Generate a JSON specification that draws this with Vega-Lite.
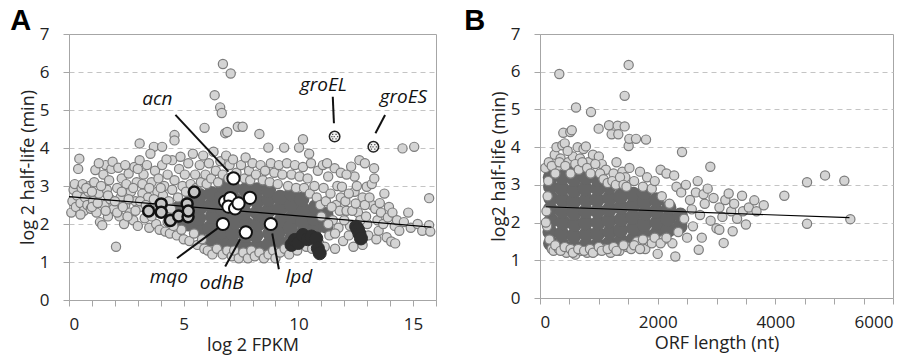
{
"$schema": "https://vega.github.io/schema/vega-lite/v6.json",
"background": "white",
"padding": {"left": 9, "top": 6, "right": 5, "bottom": 3},
"spacing": 25,
"config": {
 "font": "Open Sans",
 "view": {"stroke": "#a6a6a6", "strokeWidth": 1},
 "axis": {"labelFontSize": 17, "titleFontSize": 18, "labelColor": "#222", "titleColor": "#222", "titleFontWeight": "normal", "domainColor": "#a6a6a6", "tickColor": "#a6a6a6", "gridColor": "#c4c4c4", "gridDash": [5, 4], "labelFont": "Open Sans", "titleFont": "Open Sans"}
},
"datasets": {
 "a_core": [
  {"x":4.7,"y":2.1},{"x":4.75,"y":2.4},{"x":5.2,"y":2.0},{"x":5.15,"y":2.3},{"x":5.25,"y":2.55},{"x":5.7,"y":1.85},{"x":5.65,"y":2.15},{"x":5.75,"y":2.45},{"x":5.7,"y":2.75},
  {"x":6.2,"y":1.6},{"x":6.15,"y":1.9},{"x":6.25,"y":2.2},{"x":6.2,"y":2.5},{"x":6.2,"y":2.8},{"x":6.7,"y":1.5},{"x":6.65,"y":1.8},{"x":6.75,"y":2.1},{"x":6.7,"y":2.4},{"x":6.65,"y":2.7},{"x":6.7,"y":3.0},
  {"x":7.2,"y":1.45},{"x":7.15,"y":1.75},{"x":7.25,"y":2.05},{"x":7.2,"y":2.35},{"x":7.2,"y":2.65},{"x":7.15,"y":2.95},{"x":7.7,"y":1.4},{"x":7.7,"y":1.7},{"x":7.75,"y":2.0},{"x":7.65,"y":2.3},{"x":7.7,"y":2.6},{"x":7.7,"y":2.9},
  {"x":8.2,"y":1.4},{"x":8.15,"y":1.7},{"x":8.25,"y":2.0},{"x":8.2,"y":2.3},{"x":8.2,"y":2.6},{"x":8.2,"y":2.9},{"x":8.7,"y":1.45},{"x":8.75,"y":1.75},{"x":8.65,"y":2.05},{"x":8.7,"y":2.35},{"x":8.7,"y":2.65},{"x":8.7,"y":2.9},
  {"x":9.2,"y":1.5},{"x":9.15,"y":1.8},{"x":9.25,"y":2.1},{"x":9.2,"y":2.4},{"x":9.2,"y":2.7},{"x":9.7,"y":1.6},{"x":9.65,"y":1.9},{"x":9.75,"y":2.2},{"x":9.7,"y":2.5},{"x":9.7,"y":2.8},
  {"x":10.2,"y":1.75},{"x":10.2,"y":2.05},{"x":10.25,"y":2.35},{"x":10.15,"y":2.65},{"x":10.7,"y":1.85},{"x":10.7,"y":2.15},{"x":10.75,"y":2.45},{"x":11.2,"y":1.95},{"x":11.2,"y":2.25}
 ],
 "a_cloud": [
  {"x":0.1,"y":2.3},{"x":0.15,"y":2.6},{"x":0.2,"y":2.9},{"x":0.25,"y":3.05},{"x":0.3,"y":2.45},{"x":0.35,"y":2.75},{"x":0.4,"y":3.45},{"x":0.45,"y":3.72},{"x":0.5,"y":2.55},{"x":0.55,"y":2.95},{"x":0.6,"y":3.05},{"x":0.65,"y":2.35},{"x":0.7,"y":2.7},{"x":0.8,"y":2.5},{"x":0.85,"y":2.85},{"x":0.9,"y":3.0},{"x":0.95,"y":2.4},
  {"x":1.05,"y":2.6},{"x":1.1,"y":3.1},{"x":1.15,"y":3.42},{"x":1.2,"y":2.3},{"x":1.3,"y":2.8},{"x":1.35,"y":2.05},{"x":1.45,"y":1.97},{"x":1.5,"y":3.3},{"x":1.55,"y":2.5},{"x":1.6,"y":3.55},{"x":1.65,"y":2.9},{"x":1.7,"y":2.2},{"x":1.75,"y":3.15},{"x":1.8,"y":2.65},{"x":1.85,"y":3.45},{"x":1.9,"y":3.64},{"x":1.95,"y":2.4},
  {"x":2.05,"y":1.4},{"x":2.1,"y":2.95},{"x":2.15,"y":3.48},{"x":2.2,"y":2.2},{"x":2.25,"y":2.7},{"x":2.3,"y":3.2},{"x":2.4,"y":2.0},{"x":2.45,"y":2.5},{"x":2.5,"y":3.05},{"x":2.6,"y":3.33},{"x":2.65,"y":2.3},{"x":2.7,"y":2.85},{"x":2.8,"y":2.1},{"x":2.85,"y":3.5},{"x":2.9,"y":2.6},{"x":2.95,"y":3.1},
  {"x":3.0,"y":1.95},{"x":3.08,"y":3.68},{"x":3.08,"y":4.12},{"x":3.1,"y":2.45},{"x":3.2,"y":2.8},{"x":3.25,"y":3.3},{"x":3.3,"y":2.15},{"x":3.4,"y":3.55},{"x":3.45,"y":2.7},{"x":3.5,"y":1.9},{"x":3.6,"y":3.1},{"x":3.7,"y":4.03},{"x":3.7,"y":2.4},{"x":3.75,"y":3.4},{"x":3.8,"y":2.0},{"x":3.85,"y":2.85},{"x":3.9,"y":3.2},{"x":3.95,"y":1.85},
  {"x":4.06,"y":3.55},{"x":4.06,"y":4.03},{"x":4.1,"y":2.75},{"x":4.15,"y":3.0},{"x":4.2,"y":1.8},{"x":4.3,"y":3.3},{"x":4.35,"y":2.6},{"x":4.4,"y":1.75},{"x":4.5,"y":3.68},{"x":4.5,"y":2.9},{"x":4.6,"y":4.34},{"x":4.6,"y":4.2},{"x":4.6,"y":3.15},{"x":4.7,"y":1.7},{"x":4.75,"y":2.7},{"x":4.8,"y":3.45},{"x":4.86,"y":3.77},{"x":4.9,"y":1.85},{"x":4.95,"y":3.0},
  {"x":0.5,"y":2.25},{"x":0.75,"y":2.95},{"x":1.0,"y":2.45},{"x":1.0,"y":2.85},{"x":1.25,"y":2.55},{"x":1.4,"y":3.0},{"x":1.6,"y":2.35},{"x":1.7,"y":2.75},{"x":2.0,"y":2.6},{"x":2.1,"y":2.3},{"x":2.3,"y":2.85},{"x":2.35,"y":2.45},{"x":2.55,"y":2.2},{"x":2.6,"y":2.65},{"x":2.8,"y":2.95},{"x":2.9,"y":2.35},{"x":3.1,"y":2.6},{"x":3.2,"y":3.05},{"x":3.35,"y":2.5},{"x":3.5,"y":2.95},{"x":3.6,"y":2.2},{"x":3.7,"y":2.65},{"x":3.9,"y":2.5},{"x":4.0,"y":2.95},{"x":4.2,"y":2.35},{"x":4.3,"y":2.05},{"x":4.45,"y":2.4},{"x":4.55,"y":1.95},{"x":1.3,"y":3.6},{"x":2.45,"y":3.55},{"x":3.0,"y":3.45},{"x":3.55,"y":3.85},{"x":4.25,"y":3.7},
  {"x":5.0,"y":1.6},{"x":5.05,"y":3.3},{"x":5.1,"y":2.85},{"x":5.2,"y":3.6},{"x":5.25,"y":1.55},{"x":5.3,"y":3.05},{"x":5.4,"y":3.85},{"x":5.45,"y":1.75},{"x":5.5,"y":3.3},{"x":5.55,"y":2.95},{"x":5.6,"y":1.45},{"x":5.7,"y":3.55},{"x":5.75,"y":3.1},{"x":5.8,"y":1.6},{"x":5.85,"y":3.8},{"x":5.91,"y":4.53},{"x":5.95,"y":3.3},{"x":5.9,"y":1.35},
  {"x":6.0,"y":3.05},{"x":6.05,"y":1.3},{"x":6.1,"y":3.6},{"x":6.2,"y":3.2},{"x":6.25,"y":1.2},{"x":6.3,"y":3.9},{"x":6.35,"y":5.39},{"x":6.4,"y":3.4},{"x":6.45,"y":1.35},{"x":6.5,"y":3.1},{"x":6.59,"y":5.07},{"x":6.6,"y":3.65},{"x":6.66,"y":4.92},{"x":6.7,"y":1.2},{"x":6.7,"y":3.3},{"x":6.71,"y":6.21},{"x":6.81,"y":4.39},{"x":6.85,"y":3.8},{"x":6.9,"y":4.42},{"x":6.9,"y":1.3},{"x":6.95,"y":3.2},
  {"x":7.05,"y":5.96},{"x":7.0,"y":3.55},{"x":7.1,"y":1.15},{"x":7.15,"y":3.7},{"x":7.2,"y":1.3},{"x":7.3,"y":3.35},{"x":7.36,"y":4.56},{"x":7.4,"y":1.1},{"x":7.5,"y":3.55},{"x":7.57,"y":4.56},{"x":7.6,"y":1.25},{"x":7.65,"y":3.2},{"x":7.7,"y":3.75},{"x":7.8,"y":1.1},{"x":7.85,"y":3.4},{"x":7.95,"y":1.3},{"x":7.9,"y":3.15},
  {"x":8.0,"y":3.6},{"x":8.1,"y":1.15},{"x":8.15,"y":3.3},{"x":8.3,"y":4.37},{"x":8.3,"y":1.25},{"x":8.35,"y":3.55},{"x":8.45,"y":3.15},{"x":8.5,"y":1.1},{"x":8.55,"y":3.4},{"x":8.69,"y":4.01},{"x":8.7,"y":1.2},{"x":8.75,"y":3.1},{"x":8.8,"y":3.6},{"x":8.9,"y":1.3},{"x":8.95,"y":3.35},
  {"x":9.0,"y":1.1},{"x":9.1,"y":3.05},{"x":9.15,"y":3.55},{"x":9.2,"y":1.25},{"x":9.3,"y":3.3},{"x":9.38,"y":4.01},{"x":9.4,"y":1.35},{"x":9.5,"y":3.6},{"x":9.55,"y":3.0},{"x":9.6,"y":1.2},{"x":9.7,"y":3.3},{"x":9.75,"y":1.45},{"x":9.85,"y":3.55},{"x":9.9,"y":2.95},{"x":9.95,"y":1.3},
  {"x":10.03,"y":4.01},{"x":10.05,"y":3.25},{"x":10.1,"y":1.5},{"x":10.2,"y":4.23},{"x":10.2,"y":3.5},{"x":10.25,"y":2.95},{"x":10.35,"y":1.4},{"x":10.4,"y":3.2},{"x":10.47,"y":3.85},{"x":10.5,"y":2.8},{"x":10.55,"y":3.6},{"x":10.6,"y":1.35},{"x":10.7,"y":3.0},{"x":10.8,"y":2.7},{"x":10.85,"y":3.4},{"x":10.9,"y":1.5},{"x":10.95,"y":2.5},
  {"x":11.07,"y":3.55},{"x":11.1,"y":2.95},{"x":11.15,"y":1.4},{"x":11.2,"y":2.6},{"x":11.3,"y":3.25},{"x":11.35,"y":1.7},{"x":11.4,"y":2.8},{"x":11.5,"y":2.1},{"x":11.58,"y":3.47},{"x":11.6,"y":1.35},{"x":11.65,"y":2.5},{"x":11.7,"y":3.0},{"x":11.75,"y":1.9},{"x":11.8,"y":2.35},{"x":11.9,"y":2.98},{"x":11.95,"y":1.55},
  {"x":11.0,"y":2.2},{"x":11.3,"y":2.0},{"x":11.45,"y":2.45},{"x":11.6,"y":1.75},{"x":11.85,"y":2.7},{"x":12.1,"y":2.35},{"x":12.25,"y":1.95},{"x":12.45,"y":2.85},{"x":12.6,"y":2.3},{"x":12.8,"y":2.7},{"x":13.0,"y":2.0},{"x":13.2,"y":2.5},{"x":13.45,"y":2.1},{"x":11.25,"y":3.6},{"x":11.85,"y":3.35},{"x":12.45,"y":3.25},
  {"x":12.0,"y":2.1},{"x":12.05,"y":2.6},{"x":12.1,"y":3.3},{"x":12.2,"y":2.8},{"x":12.2,"y":1.7},{"x":12.3,"y":3.51},{"x":12.35,"y":2.35},{"x":12.4,"y":1.4},{"x":12.5,"y":2.54},{"x":12.55,"y":3.0},{"x":12.66,"y":3.68},{"x":12.7,"y":2.1},{"x":12.8,"y":1.45},{"x":12.9,"y":3.6},{"x":12.9,"y":2.5},{"x":12.95,"y":2.2},{"x":12.98,"y":2.98},
  {"x":13.05,"y":1.7},{"x":13.1,"y":2.7},{"x":13.2,"y":3.05},{"x":13.3,"y":3.47},{"x":13.31,"y":3.2},{"x":13.35,"y":2.4},{"x":13.4,"y":1.6},{"x":13.5,"y":1.82},{"x":13.55,"y":2.55},{"x":13.6,"y":2.3},{"x":13.7,"y":2.0},{"x":13.75,"y":2.8},{"x":13.85,"y":1.65},{"x":13.9,"y":2.17},{"x":13.95,"y":2.45},
  {"x":14.05,"y":1.54},{"x":14.1,"y":2.3},{"x":14.2,"y":1.95},{"x":14.22,"y":1.49},{"x":14.3,"y":2.1},{"x":14.4,"y":1.82},{"x":14.54,"y":3.99},{"x":14.6,"y":2.05},{"x":14.79,"y":2.3},{"x":14.9,"y":1.9},
  {"x":15.05,"y":4.03},{"x":15.2,"y":2.0},{"x":15.4,"y":1.82},{"x":15.7,"y":1.97},{"x":15.7,"y":2.68},{"x":15.75,"y":1.8}
 ],
 "a_genes": [
  {"x":3.47,"y":2.34,"set":"ring"},{"x":4.02,"y":2.53,"set":"ring"},{"x":4.02,"y":2.31,"set":"ring"},{"x":4.42,"y":2.09,"set":"ring"},{"x":4.78,"y":2.21,"set":"ring"},{"x":5.15,"y":2.53,"set":"ring"},{"x":5.19,"y":2.19,"set":"ring"},{"x":5.46,"y":2.84,"set":"ring"},{"x":5.2,"y":2.34,"set":"ring"},
  {"x":7.17,"y":3.2,"set":"white"},{"x":7.89,"y":2.69,"set":"white"},{"x":6.81,"y":2.59,"set":"white"},{"x":7.03,"y":2.68,"set":"white"},{"x":6.95,"y":2.46,"set":"white"},{"x":7.24,"y":2.41,"set":"white"},{"x":7.39,"y":2.54,"set":"white"},{"x":6.71,"y":2.0,"set":"white"},{"x":7.71,"y":1.78,"set":"white"},{"x":8.8,"y":2.0,"set":"white"},
  {"x":9.7,"y":1.45,"set":"dark"},{"x":9.84,"y":1.58,"set":"dark"},{"x":10.0,"y":1.5,"set":"dark"},{"x":10.2,"y":1.71,"set":"dark"},{"x":10.4,"y":1.6,"set":"dark"},{"x":10.57,"y":1.67,"set":"dark"},{"x":10.78,"y":1.62,"set":"dark"},{"x":10.85,"y":1.36,"set":"dark"},{"x":10.93,"y":1.23,"set":"dark"},{"x":12.52,"y":1.93,"set":"dark"},{"x":12.6,"y":1.85,"set":"dark"},{"x":12.66,"y":1.75,"set":"dark"},{"x":12.73,"y":1.62,"set":"dark"},
  {"x":11.58,"y":4.3,"set":"gro"},{"x":13.27,"y":4.03,"set":"gro"}
 ],
 "a_trend": [{"x":0,"y":2.72},{"x":15.8,"y":1.92}],
 "a_callouts": [
  {"label":"acn","x":4.64,"y":4.87,"x2":6.95,"y2":3.38,"lx":3.85,"ly":5.28},
  {"label":"groEL","x":11.5,"y":5.35,"x2":11.55,"y2":4.65,"lx":11.09,"ly":5.66},
  {"label":"groES","x":13.78,"y":4.87,"x2":13.36,"y2":4.39,"lx":14.58,"ly":5.35},
  {"label":"mqo","x":4.71,"y":1.1,"x2":6.49,"y2":1.89,"lx":4.35,"ly":0.61},
  {"label":"odhB","x":6.81,"y":0.88,"x2":7.46,"y2":1.6,"lx":6.66,"ly":0.44},
  {"label":"lpd","x":9.15,"y":0.81,"x2":8.86,"y2":1.75,"lx":10.02,"ly":0.61}
 ],
 "b_core": [
  {"x":180,"y":1.45},{"x":170,"y":1.75},{"x":190,"y":2.05},{"x":175,"y":2.35},{"x":185,"y":2.65},{"x":180,"y":2.95},{"x":175,"y":3.2},
  {"x":380,"y":1.4},{"x":370,"y":1.7},{"x":390,"y":2.0},{"x":380,"y":2.3},{"x":385,"y":2.6},{"x":375,"y":2.9},{"x":380,"y":3.2},
  {"x":580,"y":1.35},{"x":575,"y":1.65},{"x":590,"y":1.95},{"x":580,"y":2.25},{"x":570,"y":2.55},{"x":585,"y":2.85},{"x":580,"y":3.15},{"x":590,"y":3.35},
  {"x":780,"y":1.4},{"x":790,"y":1.7},{"x":775,"y":2.0},{"x":780,"y":2.3},{"x":785,"y":2.6},{"x":770,"y":2.9},{"x":780,"y":3.2},
  {"x":980,"y":1.4},{"x":975,"y":1.7},{"x":990,"y":2.0},{"x":980,"y":2.3},{"x":970,"y":2.6},{"x":985,"y":2.9},{"x":980,"y":3.15},
  {"x":1180,"y":1.45},{"x":1190,"y":1.75},{"x":1175,"y":2.05},{"x":1180,"y":2.35},{"x":1185,"y":2.65},{"x":1175,"y":2.95},
  {"x":1380,"y":1.5},{"x":1370,"y":1.8},{"x":1390,"y":2.1},{"x":1380,"y":2.4},{"x":1375,"y":2.7},{"x":1385,"y":3.0},
  {"x":1580,"y":1.55},{"x":1590,"y":1.85},{"x":1575,"y":2.15},{"x":1580,"y":2.45},{"x":1585,"y":2.75},
  {"x":1780,"y":1.65},{"x":1775,"y":1.95},{"x":1790,"y":2.25},{"x":1780,"y":2.55},{"x":1770,"y":2.8},
  {"x":1980,"y":1.7},{"x":1990,"y":2.0},{"x":1975,"y":2.3},{"x":1980,"y":2.6},
  {"x":2180,"y":1.8},{"x":2175,"y":2.1},{"x":2190,"y":2.4},{"x":2380,"y":1.9},{"x":2385,"y":2.2}
 ],
 "b_cloud": [
  {"x":90,"y":3.45},{"x":110,"y":2.3},{"x":120,"y":1.9},{"x":100,"y":2.0},{"x":130,"y":2.7},{"x":140,"y":3.1},{"x":150,"y":3.6},{"x":160,"y":1.55},{"x":200,"y":1.3},{"x":230,"y":1.25},{"x":250,"y":3.8},{"x":280,"y":4.0},{"x":300,"y":3.5},{"x":320,"y":1.3},{"x":328,"y":5.94},{"x":350,"y":3.7},{"x":380,"y":4.05},{"x":396,"y":4.38},{"x":420,"y":4.1},{"x":450,"y":1.2},{"x":480,"y":3.6},{"x":515,"y":4.4},{"x":540,"y":4.45},{"x":560,"y":3.75},{"x":600,"y":1.15},{"x":612,"y":5.05},{"x":640,"y":4.0},{"x":680,"y":3.7},{"x":700,"y":1.25},{"x":740,"y":3.95},{"x":780,"y":4.02},{"x":800,"y":1.2},{"x":820,"y":3.6},{"x":867,"y":4.93},{"x":900,"y":3.8},{"x":950,"y":1.25},{"x":997,"y":4.49},{"x":1000,"y":3.75},{"x":1050,"y":3.55},{"x":1100,"y":1.3},{"x":1120,"y":3.4},{"x":1173,"y":4.58},{"x":1200,"y":1.2},{"x":1218,"y":4.34},{"x":1250,"y":3.3},{"x":1300,"y":3.6},{"x":1320,"y":4.57},{"x":1331,"y":4.34},{"x":1350,"y":1.25},{"x":1400,"y":3.35},{"x":1439,"y":4.55},{"x":1439,"y":5.36},{"x":1450,"y":3.2},{"x":1480,"y":1.35},{"x":1507,"y":6.18},{"x":1507,"y":4.03},{"x":1518,"y":4.22},{"x":1520,"y":3.45},{"x":1550,"y":1.3},{"x":1600,"y":3.1},{"x":1632,"y":4.22},{"x":1650,"y":1.5},{"x":1700,"y":3.35},{"x":1750,"y":2.95},{"x":1790,"y":1.3},{"x":1802,"y":4.2},{"x":1820,"y":3.2},{"x":1850,"y":1.5},{"x":1900,"y":2.9},{"x":1950,"y":3.1},{"x":2000,"y":1.17},{"x":2050,"y":3.4},{"x":2070,"y":2.7},{"x":2100,"y":1.55},{"x":2150,"y":3.3},{"x":2200,"y":2.5},{"x":2250,"y":1.45},{"x":2280,"y":3.25},{"x":2300,"y":1.1},{"x":2320,"y":2.95},{"x":2350,"y":1.75},{"x":2400,"y":2.8},{"x":2414,"y":3.87},{"x":2450,"y":2.1},{"x":2480,"y":3.0},{"x":2500,"y":1.6},{"x":2550,"y":2.6},{"x":2580,"y":2.35},{"x":2600,"y":1.9},{"x":2650,"y":2.8},{"x":2680,"y":3.1},{"x":2698,"y":1.28},{"x":2720,"y":2.2},{"x":2750,"y":1.6},{"x":2780,"y":2.75},{"x":2800,"y":2.5},{"x":2850,"y":2.9},{"x":2895,"y":3.48},{"x":2900,"y":2.05},{"x":2950,"y":2.65},{"x":3000,"y":1.85},{"x":3048,"y":1.81},{"x":3050,"y":2.4},{"x":3100,"y":2.15},{"x":3122,"y":1.46},{"x":3150,"y":2.6},{"x":3207,"y":2.77},{"x":3250,"y":2.3},{"x":3275,"y":1.77},{"x":3300,"y":2.5},{"x":3350,"y":2.1},{"x":3434,"y":2.71},{"x":3450,"y":2.3},{"x":3500,"y":1.95},{"x":3550,"y":2.4},{"x":3643,"y":2.59},{"x":3680,"y":2.3},{"x":3803,"y":2.46},{"x":4153,"y":2.71},{"x":4539,"y":3.07},{"x":4539,"y":1.97},{"x":4845,"y":3.25},{"x":5173,"y":3.11},{"x":5275,"y":2.09},
  {"x":200,"y":3.5},{"x":260,"y":3.3},{"x":330,"y":3.6},{"x":430,"y":3.5},{"x":470,"y":3.9},{"x":520,"y":3.3},{"x":600,"y":3.55},{"x":660,"y":3.4},{"x":720,"y":3.6},{"x":800,"y":3.45},{"x":860,"y":3.3},{"x":940,"y":3.55},{"x":1020,"y":3.3},{"x":1080,"y":3.15},{"x":1150,"y":3.05},{"x":1230,"y":3.1},{"x":1290,"y":3.0},{"x":1360,"y":3.2},{"x":1420,"y":3.0},{"x":1470,"y":2.95},
  {"x":260,"y":1.4},{"x":350,"y":1.25},{"x":420,"y":1.35},{"x":520,"y":1.3},{"x":560,"y":1.2},{"x":650,"y":1.3},{"x":750,"y":1.25},{"x":850,"y":1.3},{"x":900,"y":1.2},{"x":1000,"y":1.35},{"x":1050,"y":1.25},{"x":1150,"y":1.3},{"x":1250,"y":1.35},{"x":1300,"y":1.25},{"x":1420,"y":1.4},{"x":1600,"y":1.4},{"x":1700,"y":1.3},{"x":1750,"y":1.55},{"x":1900,"y":1.45},{"x":1950,"y":1.6},{"x":2050,"y":1.45},{"x":2150,"y":1.6}
 ],
 "b_trend": [{"x":100,"y":2.42},{"x":5260,"y":2.13}]
},
"hconcat": [
 {
  "width": 367, "height": 266,
  "title": {"text": "A", "anchor": "start", "frame": "bounds", "fontSize": 29, "fontWeight": "bold", "font": "Liberation Sans", "color": "#000", "dx": -9, "offset": -11},
  "encoding": {
   "x": {"field": "x", "type": "quantitative", "scale": {"domain": [0, 16], "nice": false, "zero": false},
    "axis": {"title": "log 2 FPKM", "values": [0,1,2,3,4,5,6,7,8,9,10,11,12,13,14,15,16], "labelExpr": "datum.value % 5 === 0 ? datum.label : ''", "grid": false, "tickSize": 6, "labelPadding": 10, "titlePadding": 4}},
   "y": {"field": "y", "type": "quantitative", "scale": {"domain": [0, 7], "nice": false},
    "axis": {"title": "log 2 half-life (min)", "values": [0,1,2,3,4,5,6,7], "tickSize": 6, "labelPadding": 14, "titlePadding": 2, "grid": true, "gridOpacity": {"condition": {"test": "datum.value === 0 || datum.value === 7", "value": 0}, "value": 1}}}
  },
  "layer": [
   {"data": {"name": "a_core"}, "mark": {"type": "point", "filled": true, "fill": "#666666", "strokeWidth": 0, "size": 230, "opacity": 1}},
   {"data": {"name": "a_cloud"}, "mark": {"type": "point", "filled": true, "fill": "#d4d4d4", "stroke": "#7c7c7c", "strokeWidth": 1.2, "size": 85, "opacity": 1}},
   {"data": {"name": "a_trend"}, "mark": {"type": "line", "color": "#000", "strokeWidth": 1.2}},
   {"data": {"name": "a_genes"}, "transform": [{"filter": "datum.set === 'ring'"}], "mark": {"type": "point", "filled": true, "fill": "#c6c6c6", "stroke": "#111", "strokeWidth": 2.5, "size": 120, "opacity": 1}},
   {"data": {"name": "a_genes"}, "transform": [{"filter": "datum.set === 'white'"}], "mark": {"type": "point", "filled": true, "fill": "#fff", "stroke": "#111", "strokeWidth": 2, "size": 150, "opacity": 1}},
   {"data": {"name": "a_genes"}, "transform": [{"filter": "datum.set === 'dark'"}], "mark": {"type": "point", "filled": true, "fill": "#2e2e2e", "stroke": "#2e2e2e", "strokeWidth": 1, "size": 170, "opacity": 1}},
   {"data": {"name": "a_genes"}, "transform": [{"filter": "datum.set === 'gro'"}], "mark": {"type": "point", "filled": true, "fill": "#f2f2f2", "stroke": "#222", "strokeWidth": 1.5, "size": 110, "opacity": 1}},
   {"data": {"name": "a_genes"}, "transform": [{"filter": "datum.set === 'gro'"}], "mark": {"type": "point", "filled": true, "fill": "#555", "strokeWidth": 0, "size": 110, "opacity": 1, "shape": "M-0.5,-0.55h0.25v0.25h-0.25z M0.15,-0.55h0.25v0.25h-0.25z M-0.2,-0.12h0.25v0.25h-0.25z M0.45,-0.12h0.25v0.25h-0.25z M-0.65,-0.12h0.25v0.25h-0.25z M-0.5,0.32h0.25v0.25h-0.25z M0.15,0.32h0.25v0.25h-0.25z"}},
   {"data": {"name": "a_callouts"}, "mark": {"type": "rule", "color": "#111", "strokeWidth": 2}, "encoding": {"x2": {"field": "x2"}, "y2": {"field": "y2"}}},
   {"data": {"name": "a_callouts"}, "mark": {"type": "text", "fontSize": 19, "fontStyle": "italic", "color": "#111", "align": "center", "baseline": "middle"}, "encoding": {"x": {"field": "lx", "type": "quantitative"}, "y": {"field": "ly", "type": "quantitative"}, "text": {"field": "label"}}}
  ]
 },
 {
  "width": 353, "height": 264,
  "title": {"text": "B", "anchor": "start", "frame": "bounds", "fontSize": 29, "fontWeight": "bold", "font": "Liberation Sans", "color": "#000", "dx": -26, "offset": -11},
  "encoding": {
   "x": {"field": "x", "type": "quantitative", "scale": {"domain": [0, 6000], "nice": false, "zero": false},
    "axis": {"title": "ORF length (nt)", "values": [0,500,1000,1500,2000,2500,3000,3500,4000,4500,5000,5500,6000], "format": "d", "labelExpr": "datum.value % 2000 === 0 ? datum.label : ''", "grid": false, "tickSize": 6, "labelPadding": 10, "titlePadding": 4}},
   "y": {"field": "y", "type": "quantitative", "scale": {"domain": [0, 7], "nice": false},
    "axis": {"title": "log2 half-life (min)", "values": [0,1,2,3,4,5,6,7], "tickSize": 6, "labelPadding": 14, "titlePadding": 2, "grid": true, "gridOpacity": {"condition": {"test": "datum.value === 0 || datum.value === 7", "value": 0}, "value": 1}}}
  },
  "layer": [
   {"data": {"name": "b_core"}, "mark": {"type": "point", "filled": true, "fill": "#666666", "strokeWidth": 0, "size": 230, "opacity": 1}},
   {"data": {"name": "b_cloud"}, "mark": {"type": "point", "filled": true, "fill": "#d4d4d4", "stroke": "#7c7c7c", "strokeWidth": 1.2, "size": 85, "opacity": 1}},
   {"data": {"name": "b_trend"}, "mark": {"type": "line", "color": "#000", "strokeWidth": 1.2}}
  ]
 }
]
}
